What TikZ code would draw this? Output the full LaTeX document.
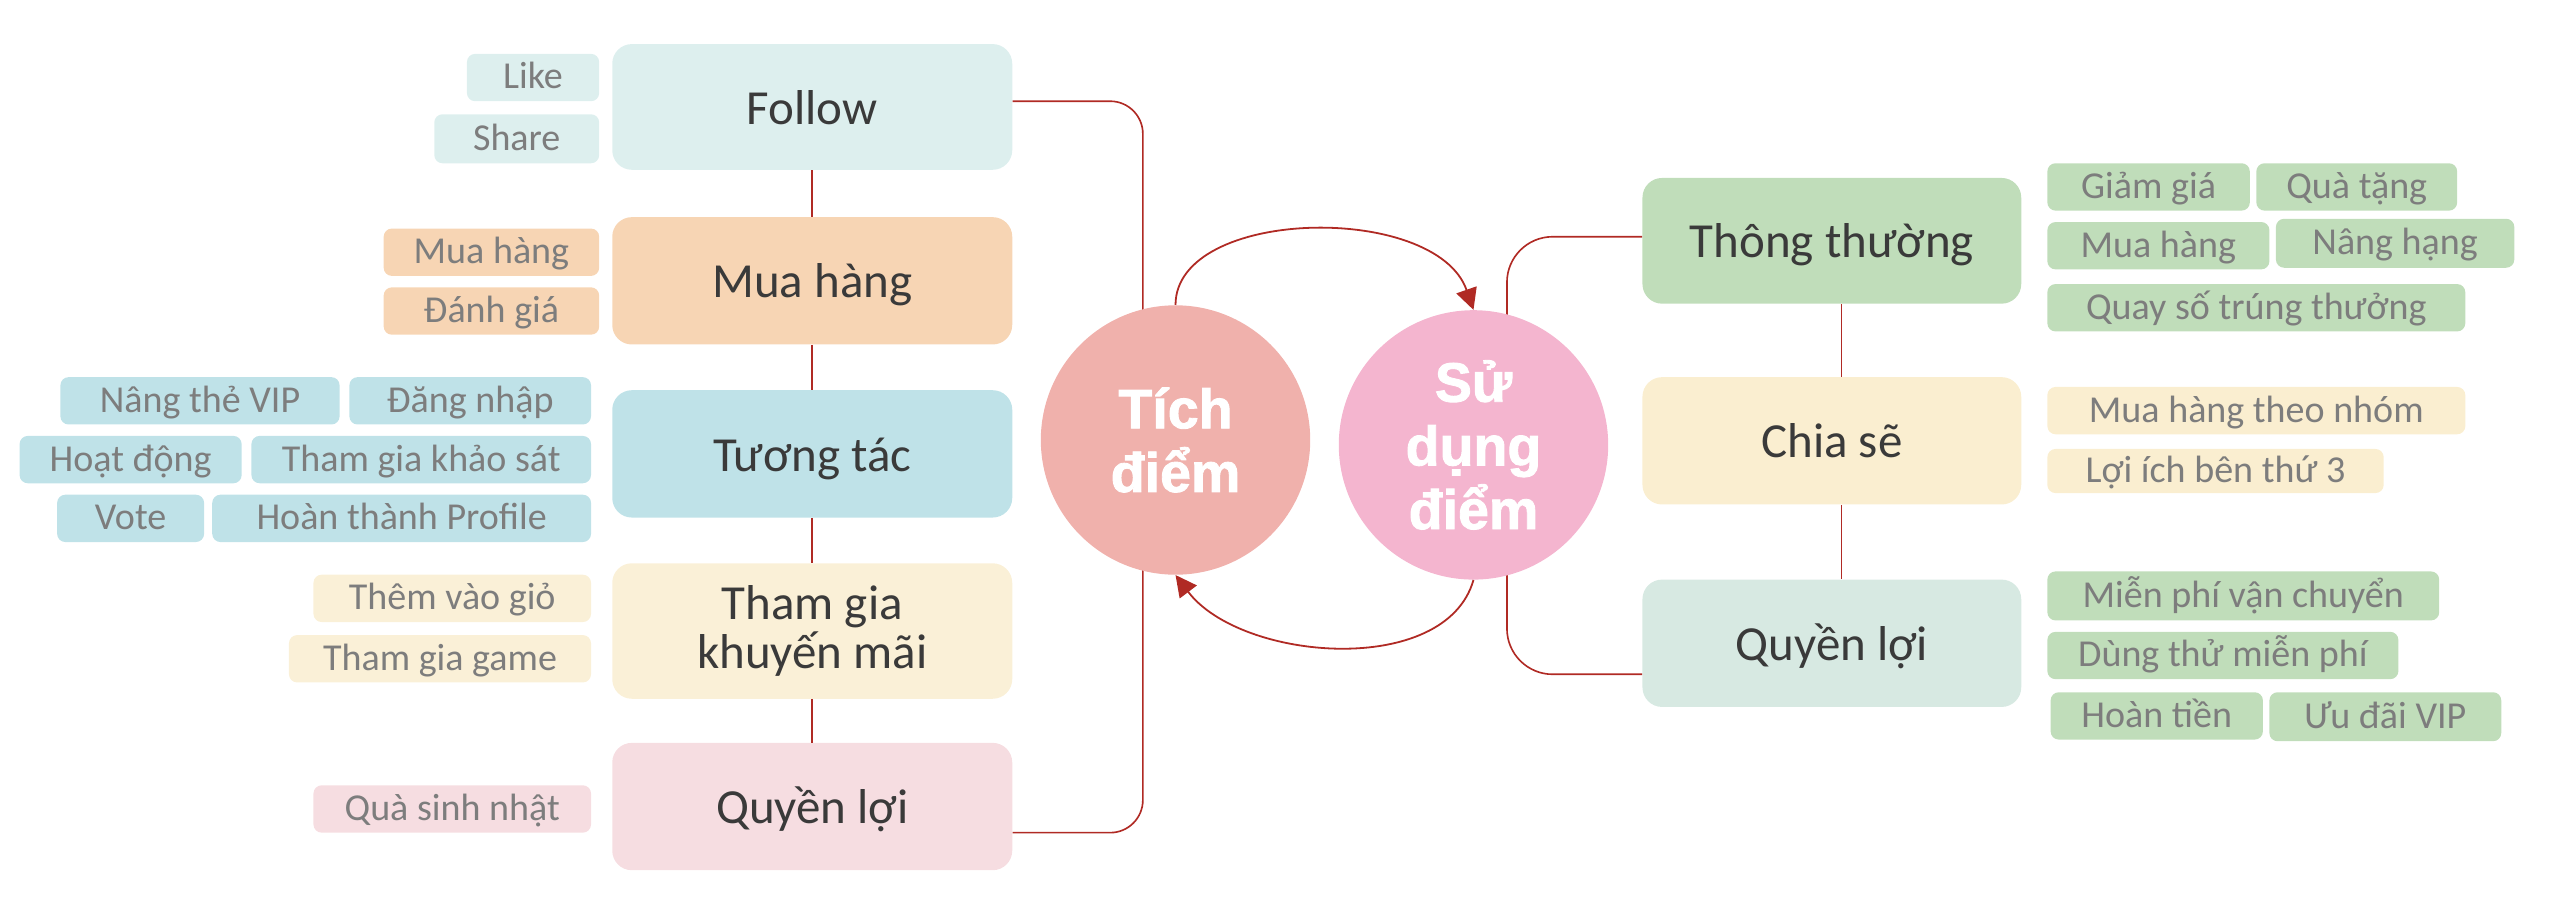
\documentclass[tikz,border=0pt]{standalone}
\usepackage{fontspec}
\setmainfont{Carlito}
\newfontfamily\circfont[BoldFont={Liberation Sans Bold},BoldFeatures={FakeBold=1.6}]{Liberation Sans}
\usetikzlibrary{arrows.meta}
\definecolor{conn}{RGB}{176,42,36}
\definecolor{maintext}{RGB}{58,58,58}
\definecolor{subtext}{RGB}{125,125,125}
\definecolor{cfollow}{RGB}{221,239,238}
\definecolor{cmua}{RGB}{247,213,180}
\definecolor{ctuong}{RGB}{191,226,232}
\definecolor{ctham}{RGB}{250,240,215}
\definecolor{cqll}{RGB}{246,221,225}
\definecolor{ctt}{RGB}{192,221,186}
\definecolor{ccs}{RGB}{250,238,208}
\definecolor{cqlr}{RGB}{215,233,226}
\definecolor{ctich}{RGB}{240,177,172}
\definecolor{csd}{RGB}{244,181,207}
\newcommand\mkbox[8]{%
  \pgfmathsetmacro\mkbw{#6-#4}\pgfmathsetmacro\mkbh{#7-#5}%
  \node[#2, fill=#3, minimum width=\mkbw pt, minimum height=\mkbh pt] (#1) at ({(#4+#6)/2},{(#5+#7)/2}) {#8};}
\begin{document}
\begin{tikzpicture}[x=1pt,y=-1pt,
  mainbox/.style={rounded corners=12pt, inner sep=0pt, align=center, text=maintext, text height=22pt, text depth=1pt, font=\fontsize{30}{30}\selectfont},
  twoline/.style={text height={}, text depth={}},
  subbox/.style={rounded corners=5pt, inner sep=0pt, text=subtext, text height=15pt, text depth=1pt, font=\fontsize{23.3}{24}\selectfont},
  conline/.style={draw=conn, line width=1pt},
  arr/.style={draw=conn, line width=1.1pt, -{Triangle[length=13pt,width=13pt]}},
  circ/.style={circle, inner sep=0pt, minimum size=165pt, align=center, text=white, font=\circfont\bfseries\fontsize{34}{39}\selectfont}]
\useasboundingbox (0,0) rectangle (1568,561.6);
% left main boxes
\mkbox{follow}{mainbox}{cfollow}{375}{27}{620}{104}{Follow}
\mkbox{muaM}{mainbox}{cmua}{375}{133}{620}{211}{Mua hàng}
\mkbox{tuong}{mainbox}{ctuong}{375}{239}{620}{317}{Tương tác}
\mkbox{tham}{mainbox,twoline}{ctham}{375}{345}{620}{428}{Tham gia\\khuyến mãi}
\mkbox{qlL}{mainbox}{cqll}{375}{455}{620}{533}{Quyền lợi}
% right main boxes
\mkbox{tt}{mainbox}{ctt}{1006}{109}{1238}{186}{Thông thường}
\mkbox{cs}{mainbox}{ccs}{1006}{231}{1238}{309}{Chia sẽ}
\mkbox{qlR}{mainbox}{cqlr}{1006}{355}{1238}{433}{Quyền lợi}
% left sub boxes
\mkbox{like}{subbox}{cfollow}{286}{33}{367}{62}{Like}
\mkbox{share}{subbox}{cfollow}{266}{70}{367}{100}{Share}
\mkbox{muaS}{subbox}{cmua}{235}{140}{367}{169}{Mua hàng}
\mkbox{danhgia}{subbox}{cmua}{235}{176}{367}{205}{Đánh giá}
\mkbox{vip}{subbox}{ctuong}{37}{231}{208}{260}{Nâng thẻ VIP}
\mkbox{dangnhap}{subbox}{ctuong}{214}{231}{362}{260}{Đăng nhập}
\mkbox{hoatdong}{subbox}{ctuong}{12}{267}{148}{296}{Hoạt động}
\mkbox{khaosat}{subbox}{ctuong}{154}{267}{362}{296}{Tham gia khảo sát}
\mkbox{vote}{subbox}{ctuong}{35}{303}{125}{332}{Vote}
\mkbox{profile}{subbox}{ctuong}{130}{303}{362}{332}{Hoàn thành Profile}
\mkbox{themgio}{subbox}{ctham}{192}{352}{362}{381}{Thêm vào giỏ}
\mkbox{game}{subbox}{ctham}{177}{389}{362}{418}{Tham gia game}
\mkbox{sinhnhat}{subbox}{cqll}{192}{481}{362}{510}{Quà sinh nhật}
% right sub boxes
\mkbox{giamgia}{subbox}{ctt}{1254}{100}{1378}{129}{Giảm giá}
\mkbox{quatang}{subbox}{ctt}{1382}{100}{1505}{129}{Quà tặng}
\mkbox{muaR}{subbox}{ctt}{1254}{136}{1390}{165}{Mua hàng}
\mkbox{nanghang}{subbox}{ctt}{1394}{134}{1540}{164}{Nâng hạng}
\mkbox{quayso}{subbox}{ctt}{1254}{174}{1510}{203}{Quay số trúng thưởng}
\mkbox{nhom}{subbox}{ccs}{1254}{237}{1510}{266}{Mua hàng theo nhóm}
\mkbox{loiich}{subbox}{ccs}{1254}{275}{1460}{302}{Lợi ích bên thứ 3}
\mkbox{mienphi}{subbox}{ctt}{1254}{350}{1494}{380}{Miễn phí vận chuyển}
\mkbox{dungthu}{subbox}{ctt}{1254}{387}{1469}{416}{Dùng thử miễn phí}
\mkbox{hoantien}{subbox}{ctt}{1256}{424}{1386}{453}{Hoàn tiền}
\mkbox{uudai}{subbox}{ctt}{1390}{424}{1532}{454}{Ưu đãi VIP}
% left chain
\draw[conline] (follow.south) -- (muaM.north);
\draw[conline] (muaM.south) -- (tuong.north);
\draw[conline] (tuong.south) -- (tham.north);
\draw[conline] (tham.south) -- (qlL.north);
% right chain
\draw[conline] ([xshift=6pt]tt.south) -- ([xshift=6pt]cs.north);
\draw[conline] ([xshift=6pt]cs.south) -- ([xshift=6pt]qlR.north);
% trunks
\coordinate (trunkL) at (700,300);
\coordinate (trunkR) at (923,300);
\draw[conline, rounded corners=20pt] ([yshift=3.5pt]follow.east) -| (trunkL) |- ([yshift=-16pt]qlL.east);
\draw[conline, rounded corners=28pt] ([yshift=2.5pt]tt.west) -| (trunkR) |- ([yshift=-19pt]qlR.west);
% circles
\node[circ, fill=ctich] (tich) at (720,269.5) {Tích\\điểm};
\node[circ, fill=csd] (sd) at (902.5,272.5) {Sử\\dụng\\điểm};
% arrows
\draw[arr] (tich.north) .. controls +(0,-60) and +(-23,-66) .. (sd.north);
\draw[arr] (sd.south) .. controls +(-17,60) and +(40,53) .. (tich.south);
\end{tikzpicture}
\end{document}
